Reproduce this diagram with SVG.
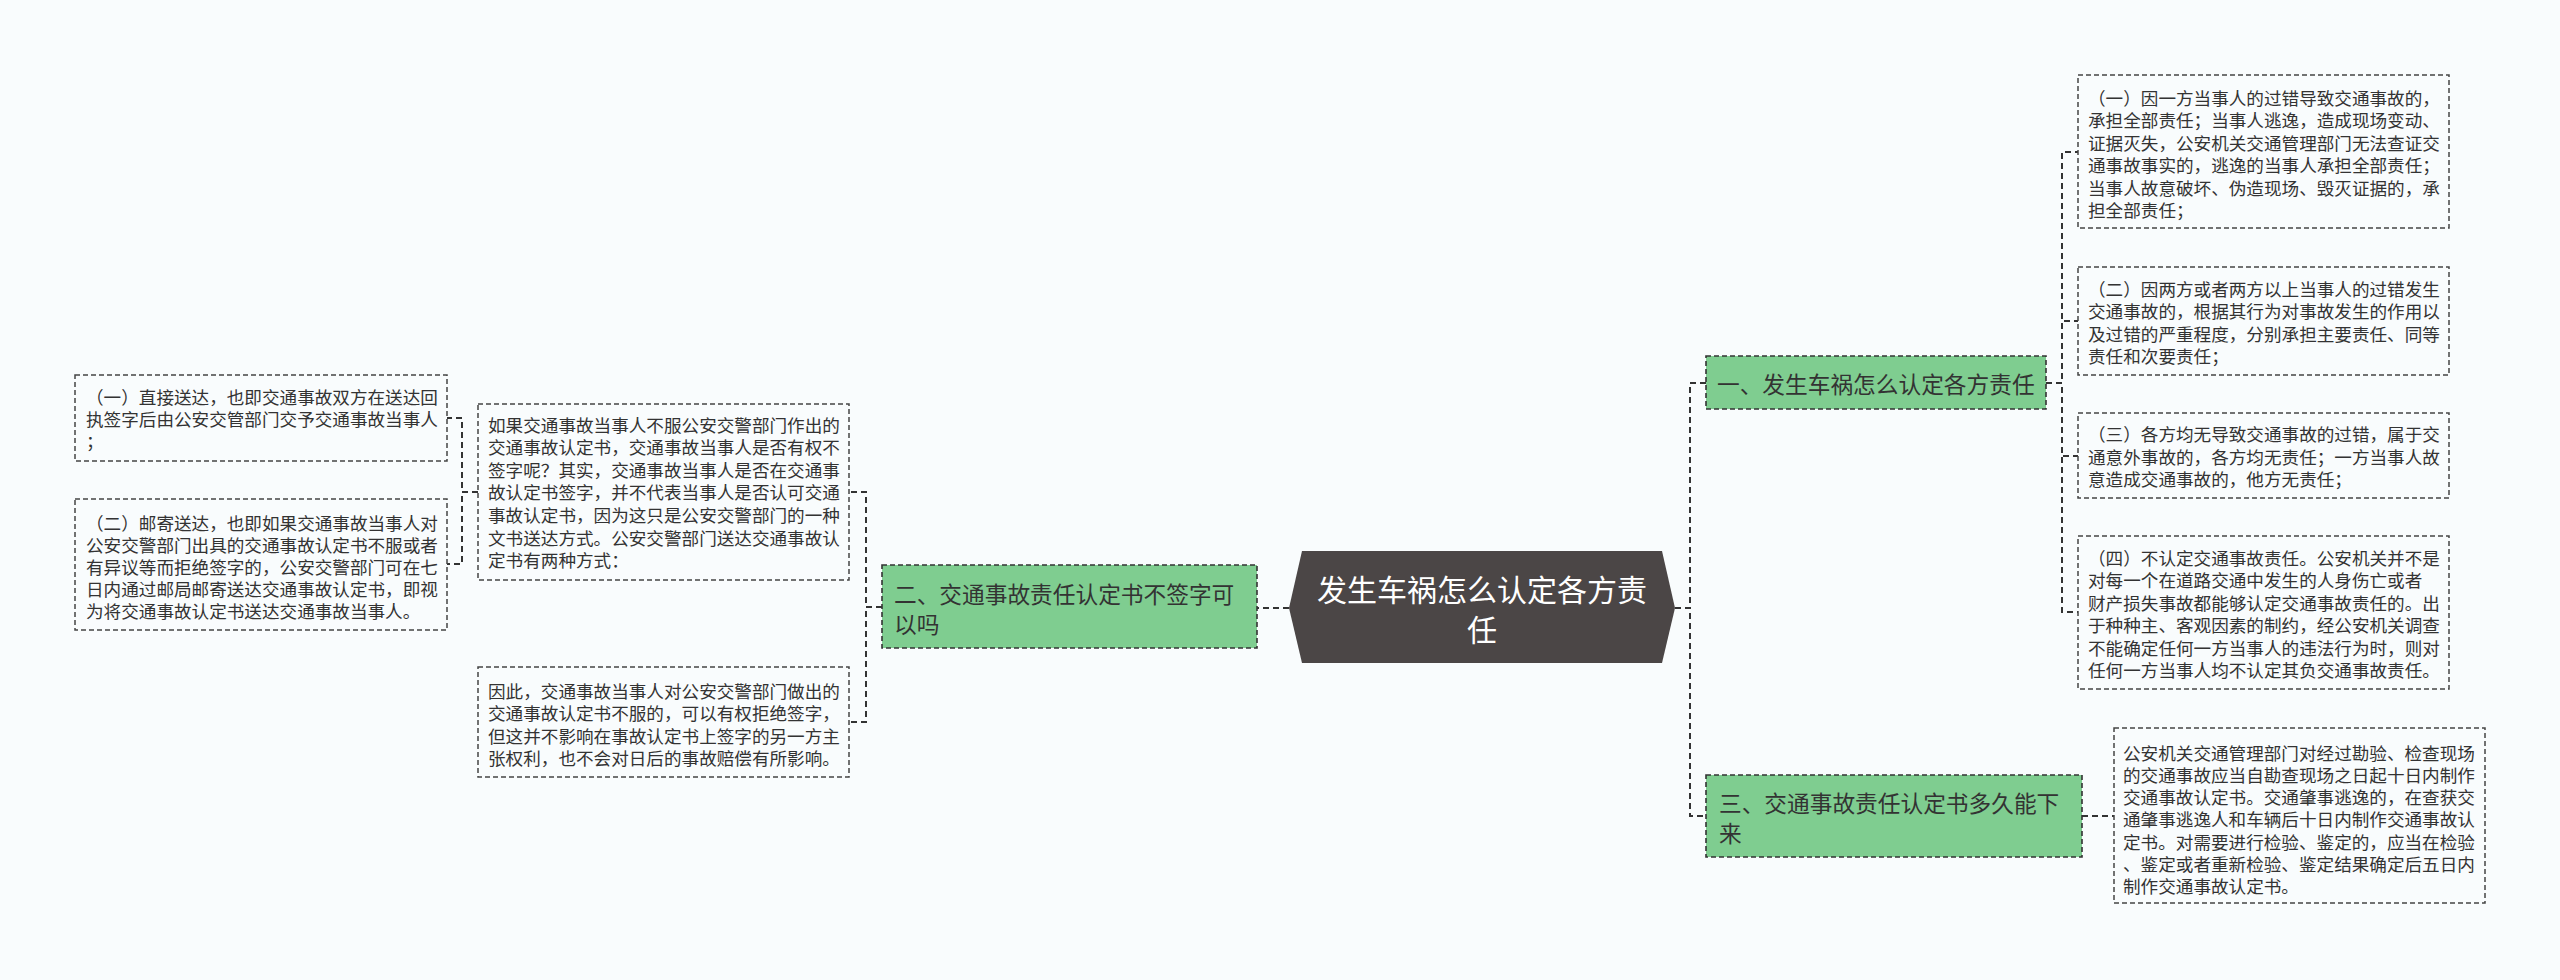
<svg xmlns="http://www.w3.org/2000/svg" width="2560" height="980" viewBox="0 0 2560 980">
<style>
text{font-family:"Noto Sans CJK SC","Noto Sans",sans-serif;dominant-baseline:central}
.bg{fill:#F9FCFD}
.hub{fill:#4B4646}
.hubt{fill:#FFFFFF;font-size:30px;text-anchor:middle}
.topic{fill:#7FCD90;stroke:#333333;stroke-width:1.6;stroke-dasharray:5 3}
.topict{fill:#333333;font-size:22.7px}
.leaf{fill:#F9FCFD;stroke:#444444;stroke-width:1.5;stroke-dasharray:5 3}
.leaft{fill:#333333;font-size:17.6px}
.edge{fill:none;stroke:#333333;stroke-width:2;stroke-dasharray:6 4}
</style>
<rect class="bg" x="0" y="0" width="2560" height="980"/>
<g id="connectors">
<path class="edge" d="M1289 608 L1257 608"/>
<path class="edge" d="M1675 608 L1690 608 L1690 383 L1706 383"/>
<path class="edge" d="M1675 608 L1690 608 L1690 816 L1706 816"/>
<path class="edge" d="M2046 383 L2062 383 L2062 152 L2078 152"/>
<path class="edge" d="M2046 383 L2062 383 L2062 321 L2078 321"/>
<path class="edge" d="M2046 383 L2062 383 L2062 456 L2078 456"/>
<path class="edge" d="M2046 383 L2062 383 L2062 612 L2078 612"/>
<path class="edge" d="M2082 816 L2114 816"/>
<path class="edge" d="M882 607 L866 607 L866 492 L849 492"/>
<path class="edge" d="M882 607 L866 607 L866 722 L849 722"/>
<path class="edge" d="M478 492 L462 492 L462 418 L447 418"/>
<path class="edge" d="M478 492 L462 492 L462 564 L447 564"/>
</g>
<g id="root">
<polygon class="hub" points="1302,551 1662,551 1675,608 1662,663 1302,663 1289,608"/>
<text class="hubt" x="1482" y="588">发生车祸怎么认定各方责</text>
<text class="hubt" x="1482" y="628">任</text>
</g>
<g id="topic1">
<rect class="topic" x="1706" y="356" width="340" height="53"/>
<text class="topict" x="1717" y="383">一、发生车祸怎么认定各方责任</text>
</g>
<g id="topic2">
<rect class="topic" x="882" y="565" width="375" height="83"/>
<text class="topict" x="894" y="593">二、交通事故责任认定书不签字可</text>
<text class="topict" x="894" y="623">以吗</text>
</g>
<g id="topic3">
<rect class="topic" x="1706" y="775" width="376" height="82"/>
<text class="topict" x="1719" y="802">三、交通事故责任认定书多久能下</text>
<text class="topict" x="1719" y="832">来</text>
</g>
<g id="leaf1-1">
<rect class="leaf" x="2078" y="75" width="371" height="153"/>
<text class="leaft" x="2088" y="97">（一）因一方当事人的过错导致交通事故的，</text>
<text class="leaft" x="2088" y="119.5">承担全部责任；当事人逃逸，造成现场变动、</text>
<text class="leaft" x="2088" y="142">证据灭失，公安机关交通管理部门无法查证交</text>
<text class="leaft" x="2088" y="164.5">通事故事实的，逃逸的当事人承担全部责任；</text>
<text class="leaft" x="2088" y="187">当事人故意破坏、伪造现场、毁灭证据的，承</text>
<text class="leaft" x="2088" y="209.5">担全部责任；</text>
</g>
<g id="leaf1-2">
<rect class="leaf" x="2078" y="267" width="371" height="108"/>
<text class="leaft" x="2088" y="288">（二）因两方或者两方以上当事人的过错发生</text>
<text class="leaft" x="2088" y="310.5">交通事故的，根据其行为对事故发生的作用以</text>
<text class="leaft" x="2088" y="333">及过错的严重程度，分别承担主要责任、同等</text>
<text class="leaft" x="2088" y="355.5">责任和次要责任；</text>
</g>
<g id="leaf1-3">
<rect class="leaf" x="2078" y="413" width="371" height="85"/>
<text class="leaft" x="2088" y="433.5">（三）各方均无导致交通事故的过错，属于交</text>
<text class="leaft" x="2088" y="456">通意外事故的，各方均无责任；一方当事人故</text>
<text class="leaft" x="2088" y="478.5">意造成交通事故的，他方无责任；</text>
</g>
<g id="leaf1-4">
<rect class="leaf" x="2078" y="536" width="371" height="153"/>
<text class="leaft" x="2088" y="557">（四）不认定交通事故责任。公安机关并不是</text>
<text class="leaft" x="2088" y="579.5">对每一个在道路交通中发生的人身伤亡或者</text>
<text class="leaft" x="2088" y="602">财产损失事故都能够认定交通事故责任的。出</text>
<text class="leaft" x="2088" y="624.5">于种种主、客观因素的制约，经公安机关调查</text>
<text class="leaft" x="2088" y="647">不能确定任何一方当事人的违法行为时，则对</text>
<text class="leaft" x="2088" y="669.5">任何一方当事人均不认定其负交通事故责任。</text>
</g>
<g id="leaf3-1">
<rect class="leaf" x="2114" y="728" width="371" height="175"/>
<text class="leaft" x="2123" y="752">公安机关交通管理部门对经过勘验、检查现场</text>
<text class="leaft" x="2123" y="774.3">的交通事故应当自勘查现场之日起十日内制作</text>
<text class="leaft" x="2123" y="796.6">交通事故认定书。交通肇事逃逸的，在查获交</text>
<text class="leaft" x="2123" y="818.9">通肇事逃逸人和车辆后十日内制作交通事故认</text>
<text class="leaft" x="2123" y="841.2">定书。对需要进行检验、鉴定的，应当在检验</text>
<text class="leaft" x="2123" y="863.5">、鉴定或者重新检验、鉴定结果确定后五日内</text>
<text class="leaft" x="2123" y="885.8">制作交通事故认定书。</text>
</g>
<g id="leaf2-1">
<rect class="leaf" x="478" y="404" width="371" height="176"/>
<text class="leaft" x="488" y="424">如果交通事故当事人不服公安交警部门作出的</text>
<text class="leaft" x="488" y="446.6">交通事故认定书，交通事故当事人是否有权不</text>
<text class="leaft" x="488" y="469.2">签字呢？其实，交通事故当事人是否在交通事</text>
<text class="leaft" x="488" y="491.8">故认定书签字，并不代表当事人是否认可交通</text>
<text class="leaft" x="488" y="514.4">事故认定书，因为这只是公安交警部门的一种</text>
<text class="leaft" x="488" y="537">文书送达方式。公安交警部门送达交通事故认</text>
<text class="leaft" x="488" y="559.6">定书有两种方式：</text>
</g>
<g id="leaf2-2">
<rect class="leaf" x="478" y="667" width="371" height="110"/>
<text class="leaft" x="488" y="690">因此，交通事故当事人对公安交警部门做出的</text>
<text class="leaft" x="488" y="712.5">交通事故认定书不服的，可以有权拒绝签字，</text>
<text class="leaft" x="488" y="735">但这并不影响在事故认定书上签字的另一方主</text>
<text class="leaft" x="488" y="757.5">张权利，也不会对日后的事故赔偿有所影响。</text>
</g>
<g id="leaf2-1-1">
<rect class="leaf" x="75" y="375" width="372" height="86"/>
<text class="leaft" x="86" y="396">（一）直接送达，也即交通事故双方在送达回</text>
<text class="leaft" x="86" y="418">执签字后由公安交管部门交予交通事故当事人</text>
<text class="leaft" x="86" y="440">；</text>
</g>
<g id="leaf2-1-2">
<rect class="leaf" x="75" y="499" width="372" height="131"/>
<text class="leaft" x="86" y="522">（二）邮寄送达，也即如果交通事故当事人对</text>
<text class="leaft" x="86" y="544">公安交警部门出具的交通事故认定书不服或者</text>
<text class="leaft" x="86" y="566">有异议等而拒绝签字的，公安交警部门可在七</text>
<text class="leaft" x="86" y="588">日内通过邮局邮寄送达交通事故认定书，即视</text>
<text class="leaft" x="86" y="610">为将交通事故认定书送达交通事故当事人。</text>
</g>
</svg>
